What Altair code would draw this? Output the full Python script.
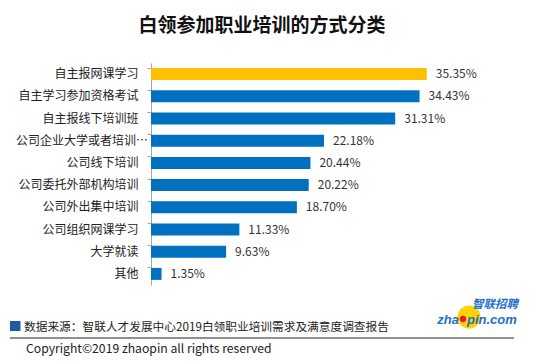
import altair as alt
import pandas as pd

categories = ["自主报网课学习", "自主学习参加资格考试", "自主报线下培训班", "公司企业大学或者培训…",
              "公司线下培训", "公司委托外部机构培训", "公司外出集中培训", "公司组织网课学习", "大学就读", "其他"]
values = [35.35, 34.43, 31.31, 22.18, 20.44, 20.22, 18.70, 11.33, 9.63, 1.35]
long_label = categories[3]

title_text = "白领参加职业培训的方式分类"
source_text = "数据来源：智联人才发展中心2019白领职业培训需求及满意度调查报告"
copyright_text = "Copyright©2019 zhaopin all rights reserved"

FONT = "Noto Sans CJK SC"
PX0, PY0 = 151, 63  # plot origin in page coords


def px(x):
    return alt.value(x - PX0)


def py(y):
    return alt.value(y - PY0)


df = pd.DataFrame({"category": categories, "value": values})

y_enc = alt.Y("category:N", sort=categories, title=None,
              scale=alt.Scale(paddingInner=0.46, paddingOuter=0.23),
              axis=alt.Axis(labelFont=FONT, labelFontSize=12, labelColor="#222222",
                            labelPadding=9, tickSize=4, tickColor="#a6a6a6",
                            domainColor="#a6a6a6", bandPosition=0, labelLimit=200,
                            labelExpr=f"datum.label == '{long_label}' ? '' : datum.label"))
x_enc = alt.X("value:Q", scale=alt.Scale(domain=[0, 40]), axis=None)

bars = alt.Chart(df).mark_bar().encode(
    y=y_enc, x=x_enc,
    color=alt.condition(alt.datum.category == categories[0], alt.value("#FFC000"), alt.value("#0070C0"))
)

labels = alt.Chart(df).transform_calculate(
    lbl="format(datum.value, '.2f') + '%'"
).mark_text(align="left", baseline="middle", dx=9, font=FONT, fontSize=12, color="#333333").encode(
    y=alt.Y("category:N", sort=categories), x=x_enc, text="lbl:N"
)

long_lbl = alt.Chart(df).transform_filter(
    alt.datum.category == long_label
).mark_text(align="right", baseline="middle", font=FONT, fontSize=12, color="#222222").encode(
    y=alt.Y("category:N", sort=categories), x=px(148), text="category:N"
)

one = pd.DataFrame({"k": [0]})


def txt(s, x, y, **kw):
    return alt.Chart(pd.DataFrame({"t": [s]})).mark_text(baseline="middle", **kw).encode(
        text="t:N", x=px(x), y=py(y))


title = txt(title_text, 262, 26, align="center", font=FONT, fontSize=19, fontWeight="bold", color="#111111")
src = txt(source_text, 24, 327, align="left", font=FONT, fontSize=11.7, color="#222222")
cpy = txt(copyright_text, 26, 349, align="left", font=FONT, fontSize=12.2, color="#222222")

square = alt.Chart(one).mark_rect(color="#1F5AA6").encode(
    x=px(10), x2=px(20.5), y=py(321), y2=py(331))
hline = alt.Chart(one).mark_rule(color="#222222", strokeWidth=1).encode(
    x=px(10), x2=px(514), y=py(338))

logo_circle = alt.Chart(one).mark_circle(color="#FFD400", opacity=1, size=530).encode(
    x=px(469), y=py(317))
logo_dot = alt.Chart(one).mark_circle(color="#E02020", opacity=1, size=40).encode(
    x=px(463), y=py(319))
logo_cn = txt("智联招聘", 495, 305, align="center", font=FONT, fontSize=11.5, fontWeight="bold",
              fontStyle="italic", color="#1E6FC8")
logo_a = txt("zha", 459, 320, align="right", font="Liberation Sans", fontSize=13, fontWeight="bold",
             fontStyle="italic", color="#1E6FC8")
logo_b = txt("pin.com", 467, 320, align="left", font="Liberation Sans", fontSize=13, fontWeight="bold",
             fontStyle="italic", color="#1E6FC8")

chart = alt.layer(
    bars, labels, long_lbl, title, square, src, hline, cpy,
    logo_circle, logo_dot, logo_cn, logo_a, logo_b
).properties(
    width=312, height=222,
    autosize=alt.AutoSizeParams(type="none"),
    padding={"left": 143, "top": 55, "right": 60, "bottom": 71},
    background="white"
).configure_view(stroke=None)

chart.save("out.html", embed_options={"renderer": "svg", "actions": False})
